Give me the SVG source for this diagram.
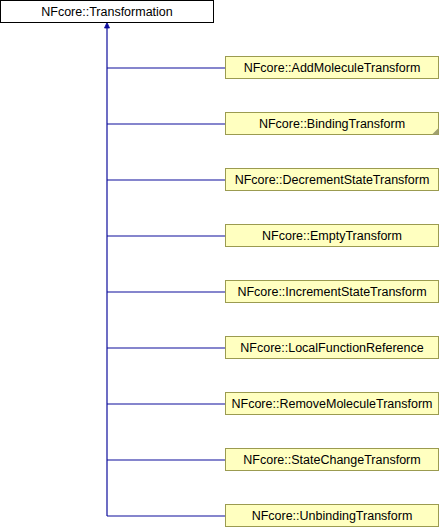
<svg xmlns="http://www.w3.org/2000/svg" width="440" height="528" viewBox="0 0 440 528">
<style>
.base rect{fill:#ffffff;stroke:#000000;stroke-width:1}
.node rect{fill:#ffffc0;stroke:#9b9b50;stroke-width:1}
text{font-family:"Liberation Sans",Arial,sans-serif;font-size:12.5px;fill:#000000;text-anchor:middle}
.edges path{fill:none;stroke:#0c0c9c;stroke-width:1.2}
</style>
<rect width="440" height="528" fill="#ffffff"/>
<g class="edges" id="edges">
<path d="M107,27 V516"/>
<path d="M107,68 H225"/>
<path d="M107,124 H225"/>
<path d="M107,180 H225"/>
<path d="M107,236 H225"/>
<path d="M107,292 H225"/>
<path d="M107,348 H225"/>
<path d="M107,404 H225"/>
<path d="M107,460 H225"/>
<path d="M107,516 H225"/>
<polygon points="107,22.5 104.5,28 109.5,28" fill="#0c0c9c" stroke="#0c0c9c" stroke-width="0.8"/>
</g>
<g class="base" id="node-Transformation">
<rect x="0.5" y="0.5" width="213" height="22"/>
<text x="107" y="15.5">NFcore::Transformation</text>
</g>
<g class="node" id="node-AddMoleculeTransform">
<rect x="225.5" y="56.5" width="213" height="22"/>
<text x="332" y="71.5">NFcore::AddMoleculeTransform</text>
</g>
<g class="node" id="node-BindingTransform">
<rect x="225.5" y="112.5" width="213" height="22"/>
<text x="332" y="127.5">NFcore::BindingTransform</text>
<polygon points="432,134.5 438.5,134.5 438.5,128" fill="#a0a070"/>
</g>
<g class="node" id="node-DecrementStateTransform">
<rect x="225.5" y="168.5" width="213" height="22"/>
<text x="332" y="183.5">NFcore::DecrementStateTransform</text>
</g>
<g class="node" id="node-EmptyTransform">
<rect x="225.5" y="224.5" width="213" height="22"/>
<text x="332" y="239.5">NFcore::EmptyTransform</text>
</g>
<g class="node" id="node-IncrementStateTransform">
<rect x="225.5" y="280.5" width="213" height="22"/>
<text x="332" y="295.5">NFcore::IncrementStateTransform</text>
</g>
<g class="node" id="node-LocalFunctionReference">
<rect x="225.5" y="336.5" width="213" height="22"/>
<text x="332" y="351.5">NFcore::LocalFunctionReference</text>
</g>
<g class="node" id="node-RemoveMoleculeTransform">
<rect x="225.5" y="392.5" width="213" height="22"/>
<text x="332" y="407.5">NFcore::RemoveMoleculeTransform</text>
</g>
<g class="node" id="node-StateChangeTransform">
<rect x="225.5" y="448.5" width="213" height="22"/>
<text x="332" y="463.5">NFcore::StateChangeTransform</text>
</g>
<g class="node" id="node-UnbindingTransform">
<rect x="225.5" y="504.5" width="213" height="22"/>
<text x="332" y="519.5">NFcore::UnbindingTransform</text>
</g>
</svg>
